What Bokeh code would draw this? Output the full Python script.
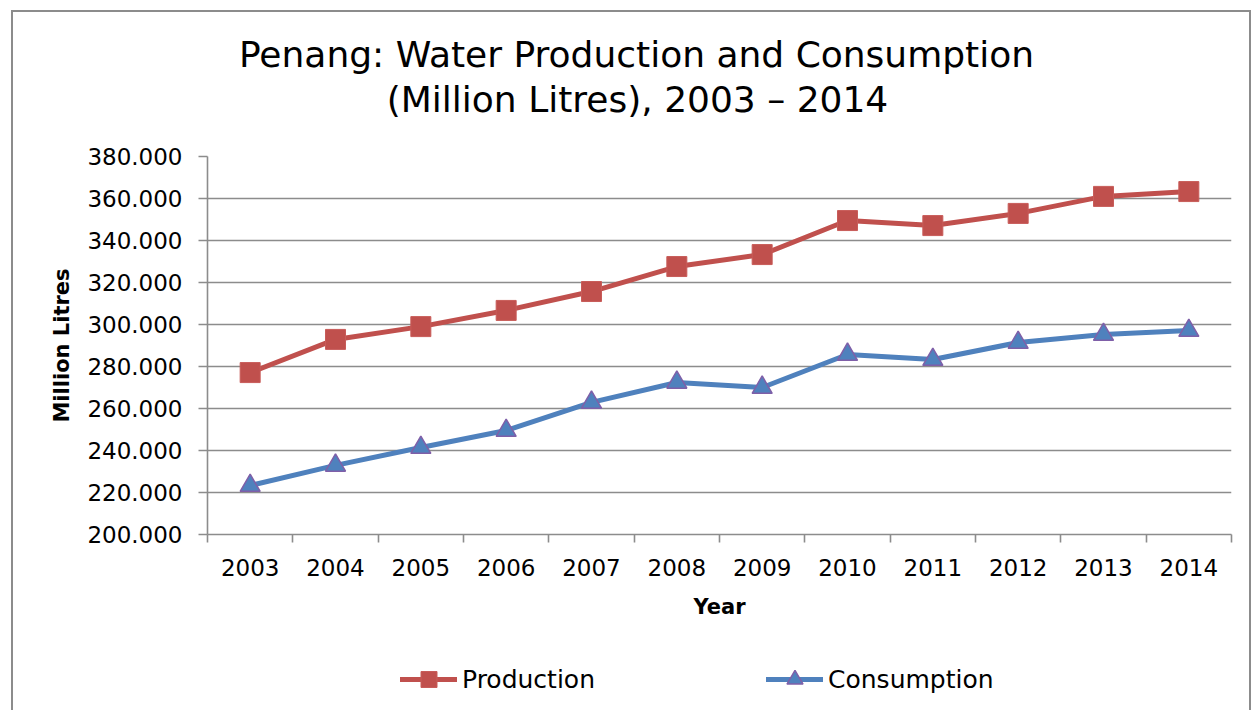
from bokeh.plotting import figure
from bokeh.layouts import column
from bokeh.models import (Range1d, FixedTicker, NumeralTickFormatter, Label,
                          Legend, LegendItem, ColumnDataSource, InlineStyleSheet)
from bokeh.embed import file_html
from bokeh.resources import INLINE

years = [2003, 2004, 2005, 2006, 2007, 2008, 2009, 2010, 2011, 2012, 2013, 2014]
production = [277.1, 292.9, 299.0, 306.7, 315.7, 327.6, 333.3, 349.5, 347.1, 352.9, 361.0, 363.3]
consumption = [223.3, 232.9, 241.4, 249.5, 262.9, 272.4, 270.0, 285.7, 283.3, 291.4, 295.2, 297.1]
y_ticks = [200, 220, 240, 260, 280, 300, 320, 340, 360, 380]

title_line1 = "Penang: Water Production and Consumption"
title_line2 = "(Million Litres), 2003 \u2013 2014"
x_label = "Year"
y_label = "Million Litres"
series_names = ["Production", "Consumption"]

FONT = "DejaVu Sans"
GRID = "#8c8c8c"
RED = "#C0504D"
BLUE = "#4F81BD"
PURPLE = "#7F5FA8"
W = 1256


def bare(height):
    f = figure(width=W, height=height, output_backend="svg", toolbar_location=None,
               x_range=Range1d(0, 1), y_range=Range1d(0, 1), frame_align=False,
               x_axis_location=None, y_axis_location=None,
               min_border_left=0, min_border_right=0, min_border_top=0, min_border_bottom=0)
    f.grid.visible = False
    f.outline_line_color = None
    f.background_fill_color = "white"
    f.border_fill_color = "white"
    return f


src = ColumnDataSource(dict(year=years, production=production, consumption=consumption))

# ---------- title strip ----------
top = bare(142)
for txt, yy, xx in ((title_line1, 88, 636), (title_line2, 43, 637)):
    top.add_layout(Label(x=xx, y=yy, x_units="screen", y_units="screen", text=txt,
                         text_font=FONT, text_font_size="36px", text_color="black",
                         text_align="center", text_baseline="alphabetic"))

# ---------- main chart ----------
p = figure(width=W, height=482, output_backend="svg", toolbar_location=None,
           x_range=Range1d(years[0] - 0.5, years[-1] + 0.5),
           y_range=Range1d(y_ticks[0], y_ticks[-1]), frame_align=False,
           min_border_left=207, min_border_right=25, min_border_top=14, min_border_bottom=90)
p.outline_line_color = None
p.background_fill_color = "white"
p.border_fill_color = "white"

p.xgrid.visible = False
p.ygrid.ticker = FixedTicker(ticks=y_ticks)
p.ygrid.grid_line_color = GRID
p.ygrid.grid_line_width = 1.6

xa = p.xaxis[0]
xa.ticker = FixedTicker(ticks=years, minor_ticks=[y - 0.5 for y in years] + [years[-1] + 0.5])
xa.formatter = NumeralTickFormatter(format="0")
xa.axis_line_color = GRID
xa.axis_line_width = 1.6
xa.major_tick_line_color = None
xa.major_tick_out = 0
xa.major_tick_in = 0
xa.minor_tick_line_color = GRID
xa.minor_tick_line_width = 1.6
xa.minor_tick_out = 8
xa.minor_tick_in = 0
xa.major_label_text_font = FONT
xa.major_label_text_font_size = "23px"
xa.major_label_text_color = "black"
xa.major_label_standoff = 16
xa.axis_label = x_label
xa.axis_label_text_font = FONT
xa.axis_label_text_font_size = "21px"
xa.axis_label_text_font_style = "bold"
xa.axis_label_text_color = "black"
xa.axis_label_standoff = 16

ya = p.yaxis[0]
ya.ticker = FixedTicker(ticks=y_ticks)
ya.formatter = NumeralTickFormatter(format="0.000")
ya.axis_line_color = GRID
ya.axis_line_width = 1.6
ya.major_tick_line_color = GRID
ya.major_tick_line_width = 1.6
ya.major_tick_out = 9
ya.major_tick_in = 0
ya.minor_tick_line_color = None
ya.major_label_text_font = FONT
ya.major_label_text_font_size = "23px"
ya.major_label_text_color = "black"
ya.major_label_standoff = 16
ya.axis_label = y_label
ya.axis_label_text_font = FONT
ya.axis_label_text_font_size = "21px"
ya.axis_label_text_font_style = "bold"
ya.axis_label_text_color = "black"
ya.axis_label_standoff = 10

line_kw = dict(line_width=5, line_join="round", line_cap="round")
prod_marker = dict(marker="square", size=20, fill_color=RED, line_color="#c85c59", line_width=1)
cons_marker = dict(marker="triangle", size=20, fill_color=BLUE, line_color=PURPLE, line_width=1.5)

p.line("year", "production", source=src, line_color=RED, **line_kw)
p.scatter("year", "production", source=src, **prod_marker)
p.line("year", "consumption", source=src, line_color=BLUE, **line_kw)
p.scatter("year", "consumption", source=src, **cons_marker)

# ---------- legend strip (series re-used only as legend glyph sources; out of view) ----------
bottom = bare(84)
lg1 = bottom.line("year", "production", source=src, line_color=RED, **line_kw)
sg1 = bottom.scatter("year", "production", source=src, **prod_marker)
lg2 = bottom.line("year", "consumption", source=src, line_color=BLUE, **line_kw)
sg2 = bottom.scatter("year", "consumption", source=src, **cons_marker)
legend = Legend(items=[LegendItem(label=series_names[0], renderers=[lg1, sg1]),
                       LegendItem(label=series_names[1], renderers=[lg2, sg2])],
                location=(400, 9), orientation="horizontal",
                glyph_width=57, glyph_height=40, label_standoff=5, spacing=171,
                padding=0, margin=0, border_line_color=None, background_fill_alpha=0,
                label_text_font=FONT, label_text_font_size="25px", label_text_color="black")
bottom.add_layout(legend, "center")

page = column(top, p, bottom, spacing=0)
page.stylesheets = [InlineStyleSheet(css=(
    ":host::after { content: ''; position: absolute; left: 11px; top: 10px; "
    "width: 1240px; height: 720px; border: 2px solid #8c8c8c; border-bottom: none; "
    "pointer-events: none; z-index: 100; box-sizing: border-box; }"))]

open("out.html", "w").write(file_html(page, INLINE))
